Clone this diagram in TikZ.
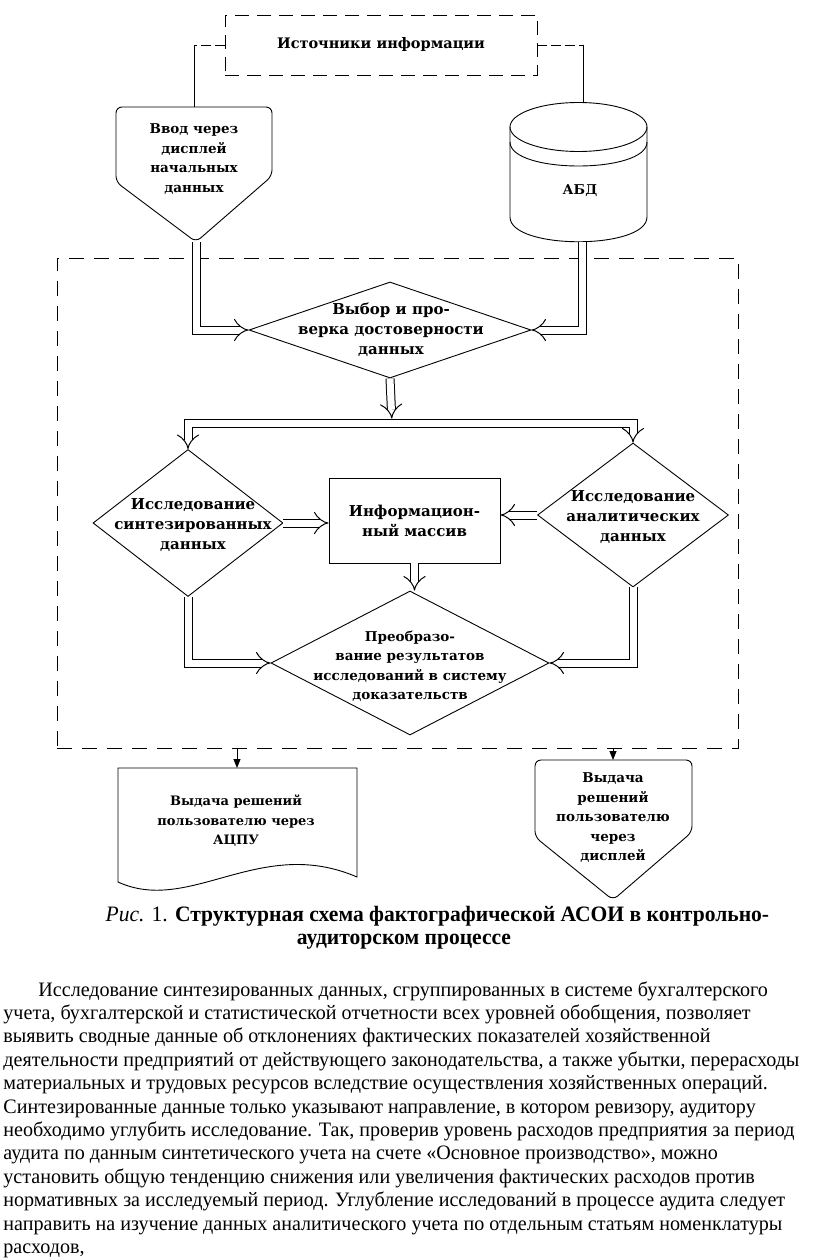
\documentclass[tikz,border=0pt]{standalone}
\usepackage{fontspec}
\setmainfont[FakeStretch=0.98]{Liberation Serif}
\newfontfamily\diagfont{DejaVu Serif}
\usetikzlibrary{shapes.geometric,arrows.meta,positioning}

\tikzset{
  blk/.style={font=\diagfont\bfseries\fontsize{13.5}{19.5}\selectfont, align=center},
  midtxt/.style={font=\diagfont\bfseries\fontsize{15}{20}\selectfont, align=center},
  decision/.style={draw, diamond, inner sep=0pt},
  dblline/.style={double, double distance=7pt, line width=1pt},
  dblarrow/.style={dblline, -{Implies}},
  outarrow/.style={-{Triangle[length=9pt,width=7pt]}},
  dashedframe/.style={draw, dash pattern=on 14pt off 8pt},
}

\begin{document}
\begin{tikzpicture}[x=1pt, y=-1pt, line width=0.9pt]
\useasboundingbox (0,0) rectangle (816,1260);

% sources of information
\node[dashedframe, minimum width=312pt, minimum height=60pt, blk,
      font=\diagfont\bfseries\fontsize{14.5}{19}\selectfont] (src) at (381,45) {Источники информации};

% input through display
\coordinate (inptop) at (194,107);
\coordinate (inp) at (196,242);
\draw[rounded corners=6pt] (inp) -- (116,182) -- (116,107) -- (272,107) -- (272,176) -- cycle;
\node[blk] (inptxt) at (194,159) {Ввод через\\дисплей\\начальных\\данных};

% data base
\coordinate (dbtop) at (583,103);
\coordinate (dbbot) at (582,242);
\draw (578.5,127) ellipse [x radius=68.5, y radius=24.5];
\draw (510,142) .. controls (510,174) and (647,174) .. (647,142);
\draw (510,127) -- (510,217) .. controls (510,250) and (647,250) .. (647,217) -- (647,127);
\node[blk] (dbtxt) at (580,191) {АБД};

\draw[dash pattern=on 10pt off 4pt] (src.west) -- (src.west -| inptop);
\draw (src.west -| inptop) -- (inptop);
\draw[dash pattern=on 10pt off 4pt] (src.east) -- (src.east -| dbtop);
\draw (src.east -| dbtop) -- (dbtop);

% processing frame
\node[dashedframe, dash pattern=on 15pt off 10pt, minimum width=681pt, minimum height=490pt] (frame) at (397.5,503) {};

\node[decision, minimum width=282pt, minimum height=96pt] (chk) at (390,330) {};
\node[midtxt] (chktxt) at (391,330) {Выбор и про-\\верка достоверности\\данных};

\node[decision, minimum width=190pt, minimum height=147pt] (syn) at (188,523) {};
\node[midtxt] (syntxt) at (193,525) {Исследование\\синтезированных\\данных};

\node[decision, minimum width=191pt, minimum height=144pt] (ana) at (633,515) {};
\node[midtxt] (anatxt) at (633,517) {Исследование\\аналитических\\данных};

\node[draw, minimum width=171pt, minimum height=85pt, midtxt] (info) at (414.5,520.5) {Информацион-\\ный массив};

\node[decision, minimum width=278pt, minimum height=144pt] (res) at (410,663) {};
\node[blk] (restxt) at (410,666) {Преобразо-\\вание результатов\\исследований в систему\\доказательств};

% double arrows
\coordinate (bar) at (392,423);
\draw[dblarrow] (inp) |- (chk.west);
\draw[dblarrow] (dbbot) |- (chk.east);
\draw[dblarrow, shorten >=4.5pt] (chk.south) -- (bar);
\draw[dblline, {Implies}-{Implies}] (syn.north) |- (bar -| ana.north) -- (ana.north);
\draw[dblarrow] (syn.east) -- (syn.east -| info.west);
\draw[dblarrow] (ana.west) -- (ana.west -| info.east);
\draw[dblarrow] (info.south) -- (info.south |- res.north);
\draw[dblarrow] (syn.south) |- (res.west);
\draw[dblarrow] (ana.south) |- (res.east);

% outputs
\coordinate (doctop) at (237,768);
\draw (118,768) -- (357,768) -- (357,877) .. controls (260,835) and (190,915) .. (118,882) -- cycle;
\node[blk, font=\diagfont\bfseries\fontsize{13}{19.5}\selectfont] (doctxt) at (236,821) {Выдача решений\\пользователю через\\АЦПУ};

\coordinate (outtop) at (613,760);
\draw[rounded corners=6pt] (613,900) -- (535,837) -- (535,760) -- (692,760) -- (692,832) -- cycle;
\node[blk] (outtxt) at (613,818) {Выдача\\решений\\пользователю\\через\\дисплей};

\draw[outarrow] (doctop |- frame.south) -- (doctop);
\draw[outarrow] (outtop |- frame.south) -- (outtop);

% caption
\node[anchor=east, font=\fontsize{22}{26}\selectfont] (capt1) at (773,916)
  {\textit{Рис.} 1. \textbf{Структурная схема фактографической АСОИ в контрольно-}};
\node[font=\fontsize{22}{26}\selectfont\bfseries] (capt2) at (404,942) {аудиторском процессе};

% text below
\node[anchor=north west, inner sep=0pt, align=left, font=\fontsize{20.5}{23.4}\selectfont] (para) at (3,981)
{\hspace*{35pt}Исследование синтезированных данных, сгруппированных в системе бухгалтерского\\
учета, бухгалтерской и статистической отчетности всех уровней обобщения, позволяет\\
выявить сводные данные об отклонениях фактических показателей хозяйственной\\
деятельности предприятий от действующего законодательства, а также убытки, перерасходы\\
материальных и трудовых ресурсов вследствие осуществления хозяйственных операций.\\
Синтезированные данные только указывают направление, в котором ревизору, аудитору\\
необходимо углубить исследование. Так, проверив уровень расходов предприятия за период\\
аудита по данным синтетического учета на счете «Основное производство», можно\\
установить общую тенденцию снижения или увеличения фактических расходов против\\
нормативных за исследуемый период. Углубление исследований в процессе аудита следует\\
направить на изучение данных аналитического учета по отдельным статьям номенклатуры\\
расходов,};
\end{tikzpicture}
\end{document}
